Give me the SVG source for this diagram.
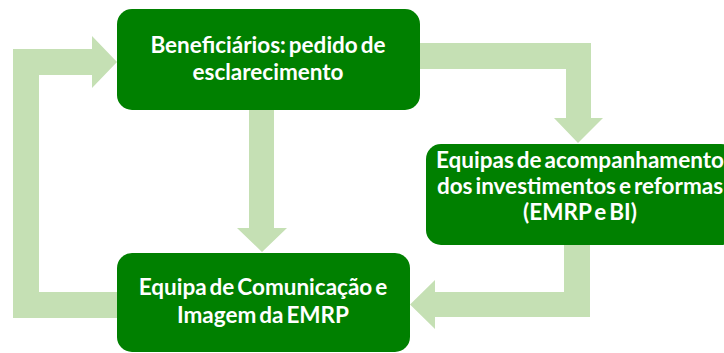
<svg xmlns="http://www.w3.org/2000/svg" width="724" height="353" viewBox="0 0 724 353">
<style>
.box{fill:#008000}
.arr{fill:#c5e0b4}
.t{font-family:Lato,"Liberation Sans",sans-serif;font-weight:bold;font-size:22.5px;word-spacing:-2.5px;fill:#ffffff;text-anchor:middle}
</style>
<rect width="724" height="353" fill="#ffffff"/>
<g id="connectors">
<polygon class="arr" points="117,318 13,318 13,49 92,49 92,36 117,62 92,88 92,75 39,75 39,292 117,292"/>
<polygon class="arr" points="249,110 274,110 274,228 287,228 262,252 237,228 249,228"/>
<polygon class="arr" points="420,43 591,43 591,118 603,118 578,143 554,118 566,118 566,69 420,69"/>
<polygon class="arr" points="564,245 590,245 590,317 435,317 435,329 410,304.5 435,280 435,292 564,292"/>
</g>
<g id="n1">
<rect class="box" x="117" y="9" width="303" height="101" rx="15"/>
<text class="t" x="268" y="53">Beneficiários: pedido de</text>
<text class="t" x="268" y="80">esclarecimento</text>
</g>
<g id="n2">
<rect class="box" x="426" y="144" width="310" height="101" rx="15"/>
<text class="t" x="580" y="168">Equipas de acompanhamento</text>
<text class="t" x="580" y="194">dos investimentos e reformas</text>
<text class="t" x="580" y="220">(EMRP e BI)</text>
</g>
<g id="n3">
<rect class="box" x="117" y="253" width="293" height="99" rx="15"/>
<text class="t" x="263" y="295">Equipa de Comunicação e</text>
<text class="t" x="263" y="323">Imagem da EMRP</text>
</g>
</svg>
